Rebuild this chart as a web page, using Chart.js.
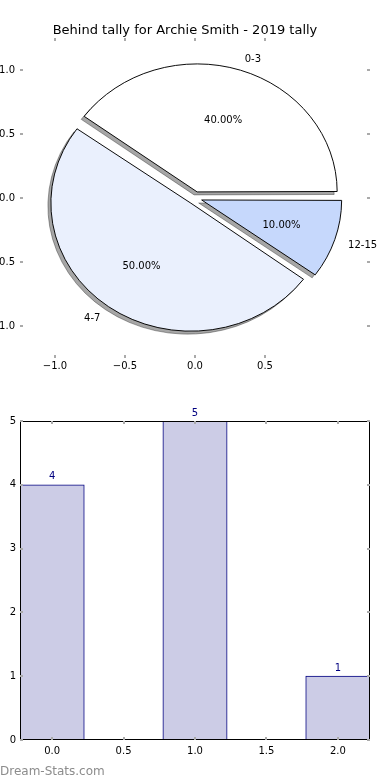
<!DOCTYPE html>
<html>
<head>
<meta charset="utf-8">
<script src="https://cdn.jsdelivr.net/npm/chart.js@4.4.1/dist/chart.umd.min.js"></script>
<style>
    body { margin: 0; background: #fff; width: 390px; height: 780px; overflow: hidden; position: relative; }
    canvas { position: absolute; left: 0; }
    #pie { top: 0; }
    #barras { top: 390px; }
    #marca { position: absolute; left: 0; top: 764px; font: 12px "DejaVu Sans"; color: #8c8c8c; }
</style>
</head>
<body>
<canvas id="pie" width="390" height="390"></canvas>
<canvas id="barras" width="390" height="390"></canvas>
<div id="marca">Dream-Stats.com</div>
<script>
const titulo = "Behind tally for Archie Smith - 2019 tally";
const categorias = ["0-3", "4-7", "12-15"];
const tallies = [4, 5, 1];
const coloresPie = ["#ffffff", "#eaf0fd", "#c6d8fc"];
const ticksPieX = [-1, -0.5, 0, 0.5];
const ticksPieY = [-1, -0.5, 0, 0.5, 1];
const barX = [0, 1, 2];
const ticksBarX = [0, 0.5, 1, 1.5, 2];
const EXPLODE = 0.05;

Chart.defaults.font.family = "'DejaVu Sans'";
Chart.defaults.font.size = 10;
Chart.defaults.color = "#000";

const fmt = v => (v < 0 ? "\u2212" : "") + Math.abs(v).toFixed(1);

// pixeles por unidad en x, y razon y/x (matplotlib no usa aspecto igual)
const pxUnidad = chart => chart.scales.x.getPixelForValue(1) - chart.scales.x.getPixelForValue(0);
const razonY = chart => (chart.scales.y.getPixelForValue(0) - chart.scales.y.getPixelForValue(1)) / pxUnidad(chart);

// ticks hacia adentro, grises
const ticksAdentro = {
    id: "ticksAdentro",
    afterDraw(chart) {
        const { ctx, chartArea: a, scales } = chart;
        ctx.save();
        ctx.strokeStyle = "#aaaaaa";
        ctx.lineWidth = 2;
        ctx.beginPath();
        scales.x.ticks.forEach(t => {
            const px = Math.round(scales.x.getPixelForValue(t.value));
            ctx.moveTo(px, a.top); ctx.lineTo(px, a.top + 3);
            ctx.moveTo(px, a.bottom); ctx.lineTo(px, a.bottom - 3);
        });
        scales.y.ticks.forEach(t => {
            const py = Math.round(scales.y.getPixelForValue(t.value));
            ctx.moveTo(a.left, py); ctx.lineTo(a.left + 3, py);
            ctx.moveTo(a.right, py); ctx.lineTo(a.right - 3, py);
        });
        ctx.stroke();
        ctx.restore();
    }
};

// Chart.js agranda el radio de los sectores con offset, aqui se corrige
const corregirRadio = {
    id: "corregirRadio",
    afterDatasetsUpdate(chart) {
        chart.getDatasetMeta(0).data.forEach(arco => {
            const fix = 1 - Math.sin(Math.min(Math.PI, arco.circumference));
            arco.outerRadius -= (arco.options.offset / 4) * fix;
        });
    }
};

// pie eliptico + sombra debajo
const elipse = {
    id: "elipse",
    beforeDatasetsDraw(chart) {
        const ctx = chart.ctx;
        const cx = chart.scales.x.getPixelForValue(0);
        const cy = chart.scales.y.getPixelForValue(0);
        ctx.save();
        ctx.translate(cx, cy);
        ctx.scale(1, razonY(chart));
        ctx.translate(-cx, -cy);

        ctx.save();
        ctx.translate(-10000, 0);
        ctx.shadowColor = "rgba(0,0,0,0.35)";
        ctx.shadowOffsetX = 10000 - 3;
        ctx.shadowOffsetY = 3;
        ctx.shadowBlur = 0;
        chart.getDatasetMeta(0).data.forEach(arco => arco.draw(ctx));
        ctx.restore();
    },
    afterDatasetsDraw(chart) {
        chart.ctx.restore();
    }
};

const etiquetasPie = {
    id: "etiquetasPie",
    afterDatasetsDraw(chart) {
        const ctx = chart.ctx;
        const meta = chart.getDatasetMeta(0);
        const r = razonY(chart);
        const R = pxUnidad(chart);
        const valores = chart.data.datasets[0].data;
        const nombres = chart.data.labels;
        const total = valores.reduce((a, b) => a + b, 0);
        ctx.save();
        ctx.font = "10px 'DejaVu Sans'";
        ctx.fillStyle = "#000";
        ctx.textBaseline = "middle";
        meta.data.forEach((arco, i) => {
            const medio = (arco.startAngle + arco.endAngle) / 2;
            const c = Math.cos(medio), s = Math.sin(medio);
            const off = arco.options.offset / 4;
            // +1.5: centro vertical como matplotlib
            const punto = d => [arco.x + (off + d * R) * c, arco.y + (off + d * R) * s * r + 1.5];
            const [lx, ly] = punto(1.1);
            ctx.textAlign = c > 0 ? "left" : "right";
            ctx.fillText(nombres[i], lx, ly);
            const [px, py] = punto(0.6);
            ctx.textAlign = "center";
            ctx.fillText((valores[i] / total * 100).toFixed(2) + "%", px, py);
        });
        ctx.restore();
    }
};

new Chart(document.getElementById("pie"), {
    type: "pie",
    data: {
        // matplotlib va antihorario desde el este, Chart.js horario
        labels: categorias.slice().reverse(),
        datasets: [{
            data: tallies.slice().reverse(),
            backgroundColor: coloresPie.slice().reverse(),
            borderColor: "#000",
            borderWidth: 1,
            rotation: 90,
            radius: ctx => pxUnidad(ctx.chart),
            // Chart.js divide el offset por 4
            offset: ctx => 4 * EXPLODE * pxUnidad(ctx.chart)
        }]
    },
    options: {
        responsive: false,
        animation: false,
        events: [],
        layout: { padding: { top: 0, right: 20, bottom: 0, left: 0 } },
        plugins: {
            legend: { display: false },
            tooltip: { enabled: false },
            title: {
                display: true,
                text: titulo,
                color: "#000",
                font: { size: 13, weight: "normal", lineHeight: 1 },
                padding: { top: 24, bottom: 1 }
            }
        },
        scales: {
            x: {
                type: "linear",
                min: -1.25, max: 1.25,
                afterBuildTicks: s => { s.ticks = ticksPieX.map(v => ({ value: v })); },
                afterFit: s => { s.height = 32; },
                grid: { display: false, drawTicks: false },
                border: { display: false },
                ticks: { padding: 2, callback: fmt }
            },
            y: {
                type: "linear",
                min: -1.25, max: 1.25,
                afterBuildTicks: s => { s.ticks = ticksPieY.map(v => ({ value: v })); },
                afterFit: s => { s.width = 20; },
                grid: { display: false, drawTicks: false },
                border: { display: false },
                ticks: { padding: 5, callback: fmt }
            }
        }
    },
    plugins: [corregirRadio, elipse, etiquetasPie, ticksAdentro]
});

// ==============================
// BARRAS
// ==============================

const marco = {
    id: "marco",
    afterDatasetsDraw(chart) {
        const { ctx, chartArea: a } = chart;
        ctx.save();
        ctx.strokeStyle = "#000";
        ctx.lineWidth = 1;
        ctx.strokeRect(a.left + 0.5, a.top + 0.5, a.right - a.left - 1, a.bottom - a.top - 1);
        ctx.restore();
    }
};

const etiquetasBarras = {
    id: "etiquetasBarras",
    afterDraw(chart) {
        const ctx = chart.ctx;
        ctx.save();
        ctx.font = "10px 'DejaVu Sans'";
        ctx.fillStyle = "#000080";
        ctx.textAlign = "center";
        ctx.textBaseline = "middle";
        chart.getDatasetMeta(0).data.forEach((barra, i) => {
            ctx.fillText(String(tallies[i]), barra.x, barra.y - 8);
        });
        ctx.restore();
    }
};

new Chart(document.getElementById("barras"), {
    type: "bar",
    data: {
        datasets: [{
            data: barX.map((x, i) => ({ x: x, y: tallies[i] })),
            backgroundColor: "#ccccE6",
            borderColor: "#000080",
            borderWidth: 1,
            borderSkipped: false,
            barThickness: ctx => 0.45 * pxUnidad(ctx.chart)
        }]
    },
    options: {
        responsive: false,
        animation: false,
        events: [],
        layout: { padding: { top: 31, right: 20, bottom: 0, left: 0 } },
        plugins: {
            legend: { display: false },
            tooltip: { enabled: false }
        },
        scales: {
            x: {
                type: "linear",
                offset: false,
                min: -0.225, max: 2.225,
                afterBuildTicks: s => { s.ticks = ticksBarX.map(v => ({ value: v })); },
                afterFit: s => { s.height = 40; },
                grid: { display: false, drawTicks: false },
                border: { display: false },
                ticks: { padding: 5, callback: fmt }
            },
            y: {
                min: 0, max: 5,
                afterFit: s => { s.width = 20; },
                grid: { display: false, drawTicks: false },
                border: { display: false },
                ticks: { stepSize: 1, padding: 4 }
            }
        }
    },
    plugins: [marco, etiquetasBarras, ticksAdentro]
});
</script>
</body>
</html>
